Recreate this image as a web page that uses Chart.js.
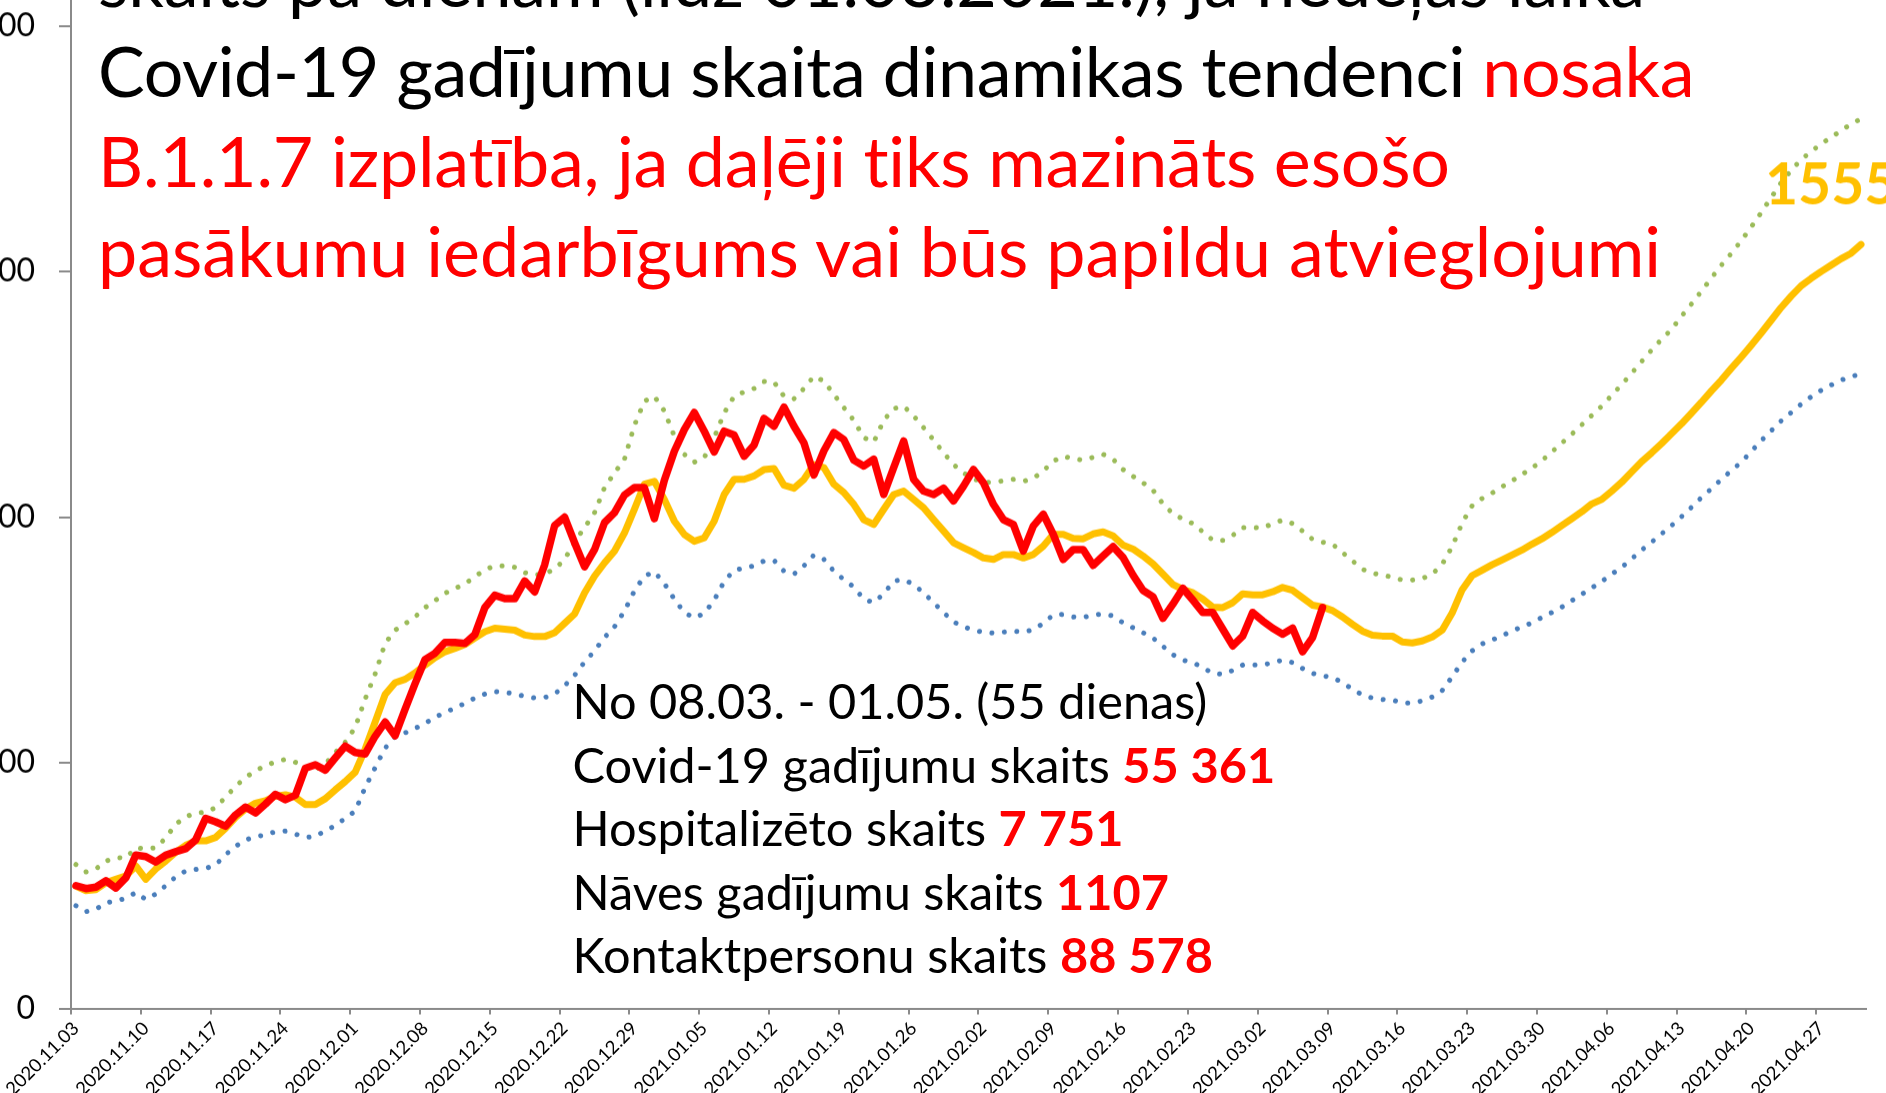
<!DOCTYPE html>
<html>
<head>
<meta charset="utf-8">
<script src="https://cdn.jsdelivr.net/npm/chart.js@4.4.1/dist/chart.umd.min.js"></script>
<style>
  html, body { margin: 0; padding: 0; width: 1886px; height: 1093px; overflow: hidden; background: #fff; }
  body { position: relative; font-family: Lato, "Open Sans", sans-serif; }
  #wrap { position: absolute; left: -78.6px; top: -262.8px; width: 2005px; height: 1390.5px; }
  #title { position: absolute; left: 98px; top: -64.8px; font-size: 70px; line-height: 90px; white-space: nowrap; color: #000; }
  #title .l1 { letter-spacing: -0.1px; }
  #title .l2 { letter-spacing: -0.4px; }
  #title .l3 { letter-spacing: -0.2px; }
  #note { position: absolute; left: 572.5px; top: 669px; font-size: 48.7px; line-height: 63.6px; white-space: nowrap; color: #000; }
  .r { color: #ff0000; }
  #note b { color: #ff0000; }
</style>
</head>
<body>
<div id="wrap"><canvas id="covidChart"></canvas></div>
<div id="title">
  <div class="l1">skaits pa dienām (līdz 01.03.2021.), ja nedēļas laikā</div>
  <div class="l2">Covid-19 gadījumu skaita dinamikas tendenci <span class="r">nosaka</span></div>
  <div class="l3 r">B.1.1.7 izplatība, ja daļēji tiks mazināts esošo</div>
  <div class="r">pasākumu iedarbīgums vai būs papildu atvieglojumi</div>
</div>
<div id="note">
  <div>No 08.03. - 01.05. (55 dienas)</div>
  <div>Covid-19 gadījumu skaits <b>55 361</b></div>
  <div>Hospitalizēto skaits <b>7 751</b></div>
  <div>Nāves gadījumu skaits <b>1107</b></div>
  <div>Kontaktpersonu skaits <b>88 578</b></div>
</div>
<script>
// days 2020.11.03 - 2021.05.01
const dates = [];
for (let i = 0; i < 180; i++) {
    const d = new Date(2020, 10, 3 + i);
    dates.push(d.getFullYear() + '.' + String(d.getMonth() + 1).padStart(2, '0') + '.' + String(d.getDate()).padStart(2, '0'));
}

const yTicks = [0, 500, 1000, 1500, 2000, 2500];

// actual daily cases (red)
const actual = [
    250, 244, 247, 260, 245, 266, 312, 309, 298, 312,
    319, 325, 343, 387, 380, 371, 394, 410, 398, 416,
    436, 425, 434, 489, 496, 485, 510, 534, 521, 518,
    554, 583, 555, 609, 661, 710, 723, 745, 745, 743,
    761, 816, 841, 834, 834, 870, 848, 903, 983, 1000,
    948, 899, 934, 989, 1009, 1045, 1060, 1060, 997, 1075,
    1134, 1178, 1213, 1175, 1133, 1175, 1167, 1124, 1147, 1201,
    1185, 1224, 1185, 1151, 1086, 1135, 1172, 1158, 1116, 1104,
    1118, 1046, 1101, 1155, 1077, 1053, 1046, 1059, 1033, 1063,
    1097, 1070, 1026, 995, 985, 931, 982, 1006, 965, 914,
    934, 934, 902, 921, 940, 918, 882, 851, 838, 794,
    823, 855, 831, 806, 806, 772, 738, 758, 806, 789,
    774, 762, 774, 726, 755, 816
];

// model / projection (yellow)
const projected = [
    249, 240, 242, 256, 263, 270, 290, 263, 284, 300,
    318, 332, 341, 341, 348, 367, 389, 406, 418, 423,
    432, 435, 430, 415, 415, 427, 445, 462, 481, 528,
    583, 639, 663, 670, 683, 699, 714, 726, 733, 741,
    754, 767, 774, 772, 770, 760, 757, 757, 765, 784,
    803, 846, 880, 907, 931, 968, 1016, 1067, 1073, 1036,
    992, 965, 951, 958, 992, 1046, 1077, 1077, 1084, 1097,
    1099, 1065, 1059, 1077, 1107, 1101, 1067, 1050, 1026, 995,
    985, 1016, 1046, 1053, 1036, 1019, 995, 972, 948, 938,
    928, 917, 914, 924, 924, 917, 924, 941, 965, 965,
    957, 956, 966, 970, 962, 943, 935, 921, 905, 884,
    863, 853, 846, 833, 817, 816, 826, 844, 842, 842,
    848, 857, 851, 836, 821, 817, 810, 797, 782, 768,
    760, 758, 758, 746, 744, 748, 756, 770, 805, 852,
    881, 892, 903, 913, 923, 933, 945, 956, 969, 983,
    997, 1011, 1027, 1036, 1053, 1071, 1092, 1113, 1131, 1150,
    1170, 1190, 1212, 1234, 1257, 1279, 1303, 1326, 1350, 1375,
    1401, 1427, 1450, 1471, 1486, 1500, 1513, 1526, 1537, 1555
];

// upper bound (green dots)
const upper = [
    293, 278, 284, 300, 307, 306, 327, 325, 327, 347,
    375, 390, 398, 399, 409, 430, 452, 470, 484, 494,
    502, 507, 501, 491, 485, 498, 521, 542, 572, 630,
    681, 743, 770, 783, 797, 816, 830, 845, 855, 864,
    879, 893, 901, 901, 898, 887, 882, 885, 894, 914,
    950, 979, 1009, 1060, 1090, 1118, 1187, 1236, 1246, 1216,
    1165, 1128, 1112, 1121, 1162, 1212, 1246, 1255, 1262, 1276,
    1275, 1246, 1241, 1262, 1287, 1277, 1250, 1223, 1197, 1162,
    1153, 1197, 1221, 1226, 1206, 1182, 1157, 1131, 1107, 1090,
    1078, 1071, 1071, 1074, 1077, 1073, 1079, 1094, 1114, 1124,
    1119, 1116, 1122, 1128, 1118, 1097, 1083, 1070, 1055, 1027,
    1007, 996, 987, 970, 953, 953, 963, 979, 979, 978,
    987, 994, 987, 972, 955, 949, 945, 928, 911, 894,
    886, 882, 878, 872, 872, 875, 884, 904, 940, 988,
    1023, 1038, 1049, 1062, 1074, 1087, 1100, 1115, 1133, 1151,
    1169, 1188, 1207, 1226, 1248, 1270, 1293, 1317, 1340, 1362,
    1382, 1409, 1434, 1460, 1487, 1513, 1537, 1563, 1591, 1620,
    1651, 1681, 1706, 1728, 1744, 1760, 1773, 1787, 1800, 1811
];

// lower bound (blue dots)
const lower = [
    209, 197, 202, 215, 219, 224, 236, 222, 233, 250,
    268, 280, 283, 285, 292, 313, 330, 343, 350, 353,
    360, 361, 355, 348, 350, 362, 372, 387, 402, 450,
    490, 530, 553, 561, 570, 580, 593, 602, 612, 621,
    632, 640, 645, 643, 641, 635, 632, 633, 640, 657,
    678, 705, 728, 755, 777, 809, 850, 880, 889, 865,
    833, 806, 795, 804, 831, 869, 892, 896, 901, 911,
    912, 890, 884, 901, 923, 914, 890, 873, 858, 833,
    826, 844, 870, 873, 863, 846, 826, 806, 787, 777,
    770, 766, 764, 766, 768, 766, 771, 784, 801, 802,
    797, 796, 801, 803, 799, 785, 775, 765, 754, 737,
    720, 709, 704, 694, 682, 680, 688, 699, 699, 699,
    704, 709, 704, 692, 682, 677, 674, 663, 650, 638,
    632, 629, 628, 622, 622, 626, 634, 647, 675, 705,
    728, 742, 750, 759, 768, 777, 785, 796, 806, 817,
    830, 843, 856, 869, 884, 898, 915, 933, 949, 966,
    983, 1001, 1020, 1040, 1058, 1077, 1095, 1112, 1134, 1156,
    1176, 1196, 1213, 1230, 1245, 1258, 1269, 1279, 1286, 1292
];

const axisGray = '#8a8a8a';

// value label at the end of the projection line
const endLabel = {
    id: 'endLabel',
    afterDatasetsDraw(chart) {
        const pts = chart.getDatasetMeta(1).data;
        const last = pts[pts.length - 1];
        const c = chart.ctx;
        c.save();
        c.font = 'bold 57px Lato';
        c.fillStyle = '#FFC000';
        c.textAlign = 'left';
        c.textBaseline = 'alphabetic';
        c.fillText(String(projected[projected.length - 1]), last.x - 96, last.y - 40);
        c.restore();
    }
};

const ctx = document.getElementById('covidChart').getContext('2d');
const covidChart = new Chart(ctx, {
    type: 'line',
    data: {
        labels: dates,
        datasets: [{
            label: 'Faktiskais',
            data: actual,
            borderColor: '#FF0000',
            borderWidth: 7.5,
            borderJoinStyle: 'round',
            borderCapStyle: 'round'
        }, {
            label: 'Prognoze',
            data: projected,
            borderColor: '#FFC000',
            borderWidth: 7,
            borderJoinStyle: 'round',
            borderCapStyle: 'round'
        }, {
            label: 'Augšējā robeža',
            data: upper,
            borderColor: '#9BBB59',
            borderWidth: 5,
            borderDash: [0.01, 12.5],
            borderCapStyle: 'round'
        }, {
            label: 'Apakšējā robeža',
            data: lower,
            borderColor: '#4A7EBB',
            borderWidth: 5,
            borderDash: [0.01, 12.5],
            borderCapStyle: 'round'
        }]
    },
    options: {
        responsive: true,
        maintainAspectRatio: false,
        animation: false,
        layout: { padding: { top: 20, right: 60, left: 0, bottom: 0 } },
        elements: { point: { radius: 0 }, line: { tension: 0 } },
        plugins: { legend: { display: false }, tooltip: { enabled: false } },
        scales: {
            x: {
                offset: true,
                afterFit: function (scale) { scale.height = 120; },
                border: { color: axisGray, width: 2 },
                grid: {
                    offset: true,
                    drawOnChartArea: false,
                    tickLength: 6,
                    lineWidth: 2,
                    color: c => (c.index % 7 === 0 ? axisGray : 'rgba(0,0,0,0)'),
                    tickColor: c => (c.index % 7 === 0 ? axisGray : 'rgba(0,0,0,0)')
                },
                ticks: {
                    autoSkip: false,
                    maxRotation: 45,
                    minRotation: 45,
                    color: '#000',
                    font: { family: 'Lato', size: 18.5 },
                    callback: function (val, i) { return i % 7 === 0 ? dates[i] : ''; }
                }
            },
            y: {
                min: yTicks[0],
                max: yTicks[yTicks.length - 1],
                afterFit: function (scale) { scale.width = 150; },
                border: { color: axisGray, width: 2 },
                grid: { drawOnChartArea: false, tickLength: 12, lineWidth: 2, color: axisGray },
                ticks: {
                    stepSize: 500,
                    padding: 24,
                    color: '#000',
                    font: { family: 'Lato', size: 32 }
                }
            }
        }
    },
    plugins: [endLabel]
});
</script>
</body>
</html>
